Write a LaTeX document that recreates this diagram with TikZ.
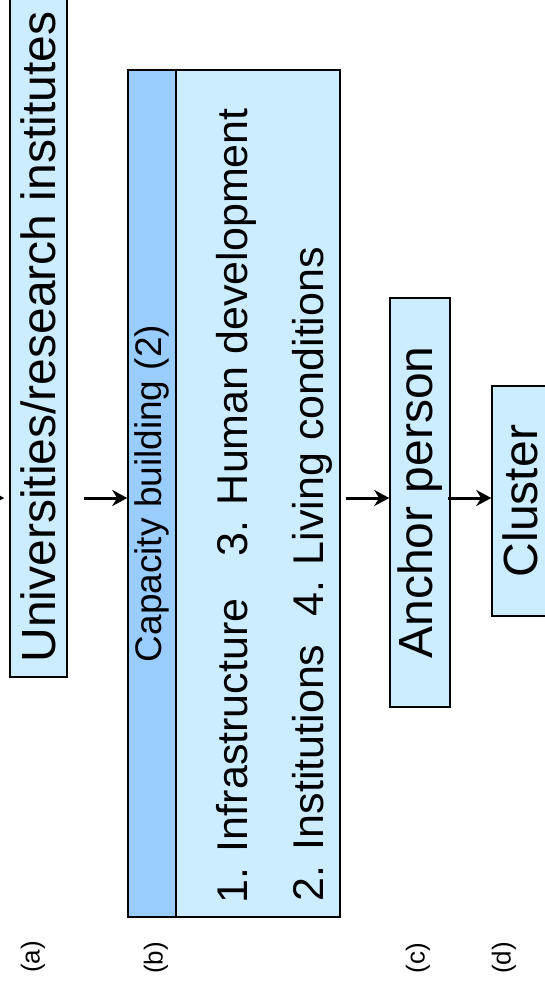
\documentclass[tikz,border=0pt]{standalone}
\usepackage{fontspec}
\setmainfont{Liberation Sans}
\usetikzlibrary{arrows.meta}
\definecolor{paleblue}{HTML}{CCECFF}
\definecolor{headblue}{HTML}{99CCFF}

\begin{document}
\begin{tikzpicture}[x=1pt,y=-1pt,
    box/.style={draw=black,line width=1.5pt,fill=paleblue,rotate=90,inner sep=0pt,
      font=\fontsize{48}{56}\selectfont},
    arr/.style={-{Stealth[length=15pt,width=16pt]},line width=3pt},
    item/.style={rotate=90,anchor=base west,inner sep=0pt,font=\fontsize{43}{50}\selectfont},
    tag/.style={rotate=90,inner sep=0pt,font=\fontsize{26}{30}\selectfont}]
  \useasboundingbox (0,0) rectangle (545,989);
  \coordinate (mid) at (0,498);
  \coordinate (src) at (-40,498);
  % boxes
  \node[box,minimum width=680pt,minimum height=57pt] (ua) at (38.5,337) {Universities/research institutes};
  \node[box,minimum width=847pt,minimum height=212pt] (cb) at (234,493.5) {};
  \node[box,fill=headblue,line width=2.5pt,minimum width=847pt,minimum height=48pt,
    font=\fontsize{37}{42}\selectfont] (cbhead) at (152,493.5) {Capacity building (2)};
  \node[item] (infra) at (247,904) {1. Infrastructure};
  \node[item] (human) at (247,557) {3. Human development};
  \node[item] (inst) at (323,902) {2. Institutions};
  \node[item] (living) at (323,617) {4. Living conditions};
  \node[box,minimum width=409pt,minimum height=60pt] (ap) at (420,502.5) {Anchor person};
  \node[box,minimum width=230pt,minimum height=56pt] (cl) at (520,501) {Cluster};
  % arrows
  \draw[arr,shorten >=5pt] (src) -- (ua.north |- mid);
  \draw[arr,shorten <=16pt] (ua.south |- mid) -- (cb.north |- mid);
  \draw[arr,shorten <=5pt] (cb.south |- mid) -- (ap.north |- mid);
  \draw[arr,shorten <=-3pt] (ap.south |- mid) -- (cl.north |- mid);
  % labels
  \node[tag] (la) at (33,957) {(a)};
  \node[tag] (lb) at (156,958) {(b)};
  \node[tag] (lc) at (418,958) {(c)};
  \node[tag] (ld) at (504,958) {(d)};
\end{tikzpicture}
\end{document}
